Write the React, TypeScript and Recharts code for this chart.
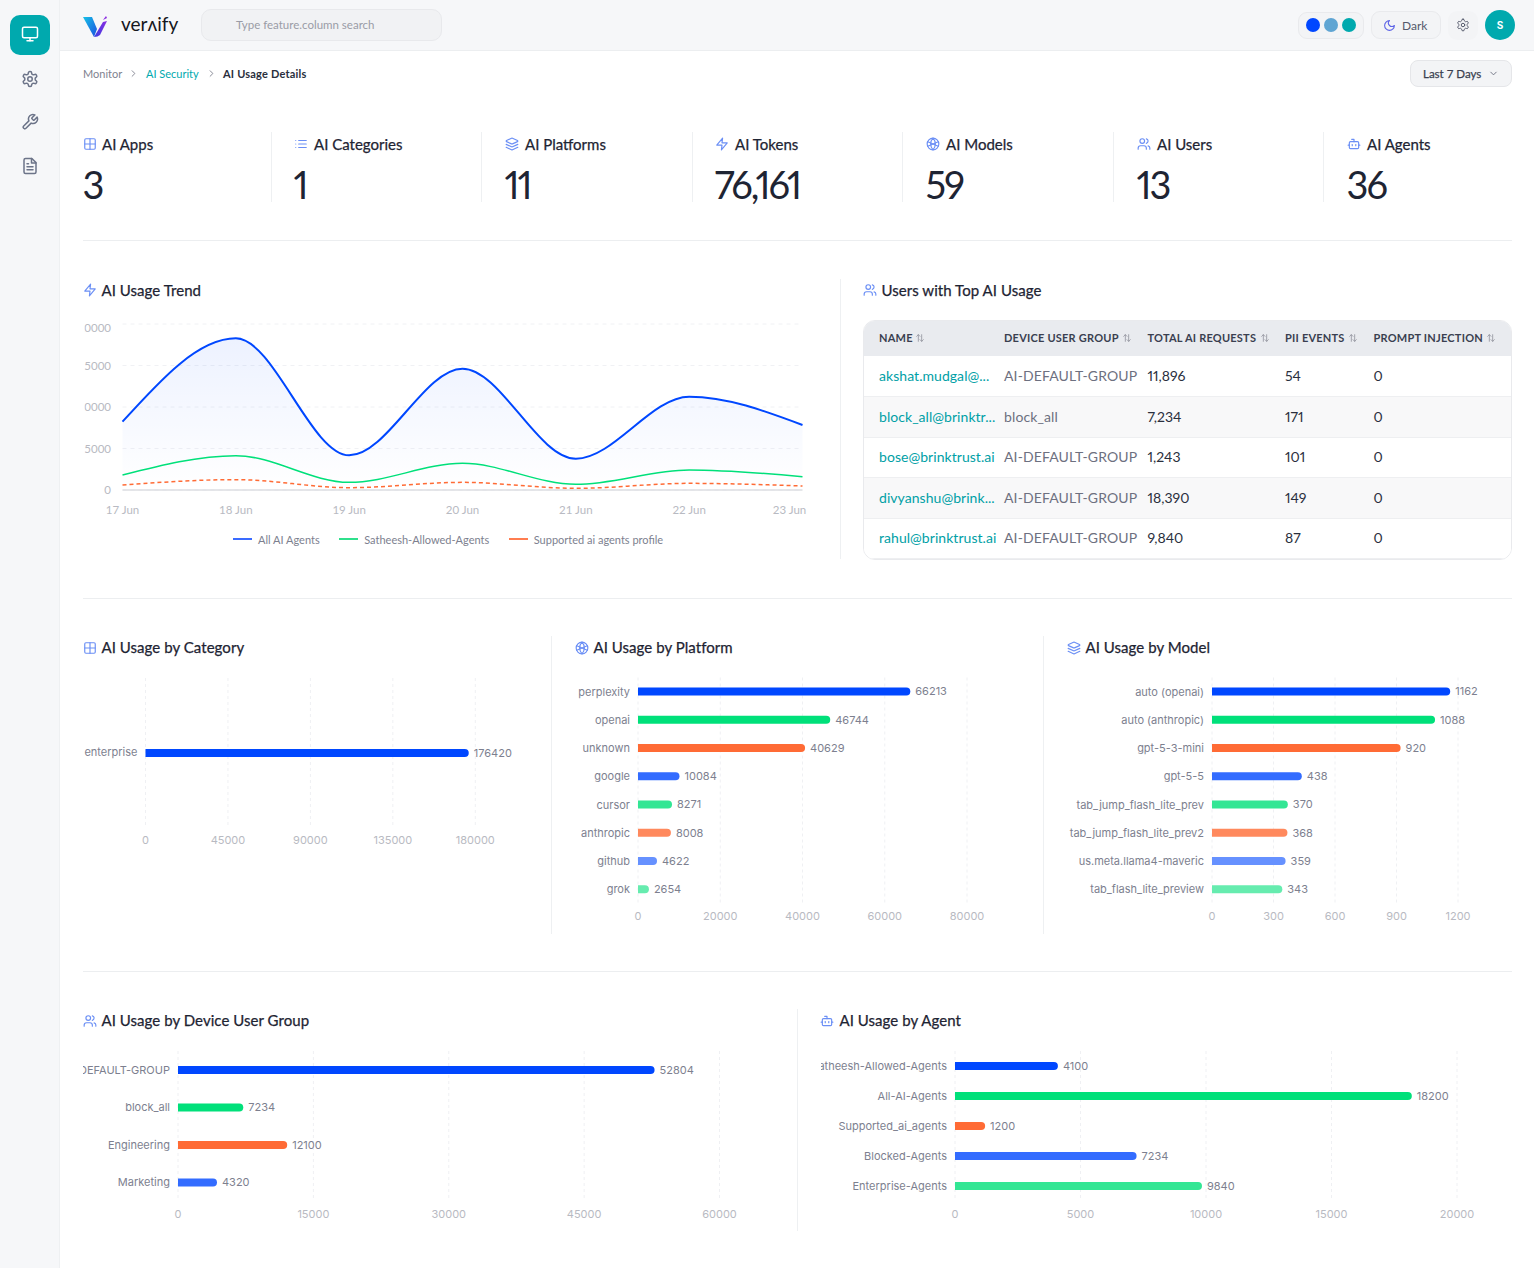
import React from "react";
import {
  BarChart, Bar, Cell, LabelList, XAxis, YAxis, CartesianGrid,
  ComposedChart, Area, Line, Legend,
} from "recharts";

const days = ["17 Jun", "18 Jun", "19 Jun", "20 Jun", "21 Jun", "22 Jun", "23 Jun"];
const allAgents = [8230, 18270, 4180, 14620, 3770, 11240, 7830];
const allowedAgents = [1810, 4140, 920, 3210, 680, 2410, 1610];
const supportedAgents = [600, 1250, 280, 920, 200, 800, 480];
const trendTicks = [0, 5000, 10000, 15000, 20000];
const seriesNames = ["All AI Agents", "Satheesh-Allowed-Agents", "Supported ai agents profile"];

const categoryNames = ["enterprise"];
const categoryValues = [176420];
const categoryTicks = [0, 45000, 90000, 135000, 180000];

const platformNames = ["perplexity", "openai", "unknown", "google", "cursor", "anthropic", "github", "grok"];
const platformValues = [66213, 46744, 40629, 10084, 8271, 8008, 4622, 2654];
const platformTicks = [0, 20000, 40000, 60000, 80000];

const modelNames = ["auto (openai)", "auto (anthropic)", "gpt-5-3-mini", "gpt-5-5", "tab_jump_flash_lite_prev", "tab_jump_flash_lite_prev2", "us.meta.llama4-maveric", "tab_flash_lite_preview"];
const modelValues = [1162, 1088, 920, 438, 370, 368, 359, 343];
const modelTicks = [0, 300, 600, 900, 1200];

const groupNames = ["AI-DEFAULT-GROUP", "block_all", "Engineering", "Marketing"];
const groupValues = [52804, 7234, 12100, 4320];
const groupTicks = [0, 15000, 30000, 45000, 60000];

const agentNames = ["Satheesh-Allowed-Agents", "All-AI-Agents", "Supported_ai_agents", "Blocked-Agents", "Enterprise-Agents"];
const agentValues = [4100, 18200, 1200, 7234, 9840];
const agentTicks = [0, 5000, 10000, 15000, 20000];

const kpiTitles = ["AI Apps", "AI Categories", "AI Platforms", "AI Tokens", "AI Models", "AI Users", "AI Agents"];
const kpiValues = ["3", "1", "11", "76,161", "59", "13", "36"];

const tableHead = ["NAME", "DEVICE USER GROUP", "TOTAL AI REQUESTS", "PII EVENTS", "PROMPT INJECTION"];
const tableNames = ["akshat.mudgal@...", "block_all@brinktr...", "bose@brinktrust.ai", "divyanshu@brink...", "rahul@brinktrust.ai"];
const tableGroups = ["AI-DEFAULT-GROUP", "block_all", "AI-DEFAULT-GROUP", "AI-DEFAULT-GROUP", "AI-DEFAULT-GROUP"];
const tableRequests = ["11,896", "7,234", "1,243", "18,390", "9,840"];
const tablePii = ["54", "171", "101", "149", "87"];
const tablePrompt = ["0", "0", "0", "0", "0"];

const palette = ["#0047ff", "#00e07a", "#ff6b35", "#336cff", "#33e694", "#ff895d", "#6691ff", "#66ecaf"];
const head = "Lato, sans-serif";
const body = "Inter, sans-serif";
const pnum = { fontFeatureSettings: '"pnum" 1, "lnum" 1' };
const medium = { WebkitTextStroke: "0.25px currentColor" };

const P = (d: string) => <path d={d} />;
const icons: Record<string, React.ReactNode> = {
  grid: <><rect x="3" y="3" width="18" height="18" rx="2" />{P("M3 12h18")}{P("M12 3v18")}</>,
  list: <>{P("M8 6h13")}{P("M8 12h13")}{P("M8 18h13")}{P("M3 6h.01")}{P("M3 12h.01")}{P("M3 18h.01")}</>,
  layers: <>{P("m12.83 2.18a2 2 0 0 0-1.66 0L2.6 6.08a1 1 0 0 0 0 1.83l8.58 3.91a2 2 0 0 0 1.66 0l8.58-3.9a1 1 0 0 0 0-1.83Z")}{P("m22 17.65-9.17 4.16a2 2 0 0 1-1.66 0L2 17.65")}{P("m22 12.65-9.17 4.16a2 2 0 0 1-1.66 0L2 12.65")}</>,
  zap: P("M13 2 3 14h9l-1 8 10-12h-9l1-8z"),
  globe: <><circle cx="12" cy="12" r="10" />{P("M12 2a14.5 14.5 0 0 0 0 20 14.5 14.5 0 0 0 0-20")}{P("M3 8l18 8")}{P("M21 8L3 16")}</>,
  users: <>{P("M16 21v-2a4 4 0 0 0-4-4H6a4 4 0 0 0-4 4v2")}<circle cx="9" cy="7" r="4" />{P("M22 21v-2a4 4 0 0 0-3-3.87")}{P("M16 3.13a4 4 0 0 1 0 7.75")}</>,
  bot: <>{P("M12 8V4H8")}<rect x="4" y="8" width="16" height="12" rx="2" />{P("M2 14h2")}{P("M20 14h2")}{P("M15 13v2")}{P("M9 13v2")}</>,
  monitor: <><rect x="2" y="3" width="20" height="14" rx="2" />{P("M8 21h8")}{P("M12 17v4")}</>,
  gear: <>{P("M12.22 2h-.44a2 2 0 0 0-2 2v.18a2 2 0 0 1-1 1.73l-.43.25a2 2 0 0 1-2 0l-.15-.08a2 2 0 0 0-2.73.73l-.22.38a2 2 0 0 0 .73 2.73l.15.1a2 2 0 0 1 1 1.72v.51a2 2 0 0 1-1 1.74l-.15.09a2 2 0 0 0-.73 2.73l.22.38a2 2 0 0 0 2.73.73l.15-.08a2 2 0 0 1 2 0l.43.25a2 2 0 0 1 1 1.73V20a2 2 0 0 0 2 2h.44a2 2 0 0 0 2-2v-.18a2 2 0 0 1 1-1.73l.43-.25a2 2 0 0 1 2 0l.15.08a2 2 0 0 0 2.73-.73l.22-.39a2 2 0 0 0-.73-2.73l-.15-.08a2 2 0 0 1-1-1.74v-.5a2 2 0 0 1 1-1.74l.15-.09a2 2 0 0 0 .73-2.73l-.22-.38a2 2 0 0 0-2.73-.73l-.15.08a2 2 0 0 1-2 0l-.43-.25a2 2 0 0 1-1-1.73V4a2 2 0 0 0-2-2z")}<circle cx="12" cy="12" r="3" /></>,
  wrench: P("M14.7 6.3a1 1 0 0 0 0 1.4l1.6 1.6a1 1 0 0 0 1.4 0l3.77-3.77a6 6 0 0 1-7.94 7.94l-6.91 6.91a2.12 2.12 0 0 1-3-3l6.91-6.91a6 6 0 0 1 7.94-7.94l-3.76 3.76z"),
  file: <>{P("M14.5 2H6a2 2 0 0 0-2 2v16a2 2 0 0 0 2 2h12a2 2 0 0 0 2-2V7.5L14.5 2z")}{P("M14 2v6h6")}{P("M16 13H8")}{P("M16 17H8")}{P("M10 9H8")}</>,
  moon: P("M12 3a6 6 0 0 0 9 9 9 9 0 1 1-9-9Z"),
  chevR: P("m9 18 6-6-6-6"),
  chevD: P("m6 9 6 6 6-6"),
  sort: <>{P("M8 20V4")}{P("M4 8l4-4 4 4")}{P("M16 4v16")}{P("M12 16l4 4 4-4")}</>,
};

function Icon({ name, x, y, size = 14, color = "#6b8ff5", width = 2 }: any) {
  return (
    <svg style={{ position: "absolute", left: x, top: y }} width={size} height={size} viewBox="0 0 24 24"
      fill="none" stroke={color} strokeWidth={width} strokeLinecap="round" strokeLinejoin="round">
      {icons[name]}
    </svg>
  );
}

function T({ x, y, size = 11, color = "#1e2433", weight = 400, font = head, children, spacing, extra }: any) {
  return (
    <div style={{ position: "absolute", left: x, top: y - 10, height: 20, lineHeight: "20px", fontFamily: font, fontSize: size, color, fontWeight: weight, whiteSpace: "nowrap", letterSpacing: spacing, ...extra }}>
      {children}
    </div>
  );
}

function Box({ x, y, w, h, bg, border, radius }: any) {
  return <div style={{ position: "absolute", left: x, top: y, width: w, height: h, background: bg, border, borderRadius: radius, boxSizing: "border-box" }} />;
}

function Title({ icon, x, textX, y, textY, children }: any) {
  return (
    <>
      <Icon name={icon} x={x} y={y - 7} size={14} />
      <T x={textX - 0.5} y={textY ?? y - 1} size={15} spacing={0.05} color="#1e2433" extra={medium}>{children}</T>
    </>
  );
}

function HBar({ L, T: top, W, H, x0, x1, plotTop, plotBottom, names, values, ticks }: any) {
  const data = names.map((name: string, i: number) => ({ name, value: values[i] }));
  return (
    <div style={{ position: "absolute", left: L, top, width: W, height: H, overflow: "hidden" }}>
      <BarChart width={W} height={H} data={data} layout="vertical"
        margin={{ top: plotTop - top, right: W - (x1 - L), bottom: 0, left: 0 }}>
        <CartesianGrid horizontal={false} stroke="#eff0f3" strokeDasharray="3 3" />
        <XAxis type="number" domain={[0, ticks[ticks.length - 1]]} ticks={ticks} interval={0}
          height={H - (plotBottom - top)} axisLine={false} tickLine={false} tickSize={0} tickMargin={9}
          tick={{ fontSize: 11, fill: "#b8bac2", fontFamily: body }} />
        <YAxis type="category" dataKey="name" width={x0 - L} interval={0}
          axisLine={false} tickLine={false} tickSize={0} tickMargin={8}
          tick={{ fontSize: 11, fill: "#7d7f8f", fontFamily: body }} />
        <Bar dataKey="value" barSize={8} radius={[0, 4, 4, 0]} isAnimationActive={false}>
          {data.map((_: any, i: number) => <Cell key={i} fill={palette[i % palette.length]} />)}
          <LabelList dataKey="value" position="right" offset={5} style={{ fontSize: 11, fill: "#7d7f8f", fontFamily: body }} />
        </Bar>
      </BarChart>
    </div>
  );
}

const trendData = days.map((day, i) => ({ day, all: allAgents[i], allowed: allowedAgents[i], supported: supportedAgents[i] }));

const XTick = (p: any) => (
  <text x={p.payload.index === days.length - 1 ? p.x - 13 : p.x} y={p.y + 14} dy="0.71em" textAnchor="middle" fontSize={11.5} fill="#b8bac2" fontFamily={head}>{p.payload.value}</text>
);
const YTick = (p: any) => (
  <text x={p.x} y={p.payload.index === trendTicks.length - 1 ? p.y + 4 : p.y} dy="0.35em" textAnchor="end" fontSize={11.5} fill="#b8bac2" fontFamily={head}>{p.payload.value}</text>
);

const TrendLegend = () => (
  <div style={{ display: "flex", marginLeft: 150, marginTop: -1, height: 20, alignItems: "center", fontFamily: head, fontSize: 11, color: "#7d7f8f" }}>
    {seriesNames.map((n, i) => (
      <div key={n} style={{ display: "flex", alignItems: "center", marginRight: 19.5 }}>
        <span style={{ display: "inline-block", width: 19, height: 1.5, background: ["#3a6bff", "#2fe08c", "#ff7d50"][i], marginRight: 6 }} />
        <span>{n}</span>
      </div>
    ))}
  </div>
);

function Trend() {
  return (
    <div style={{ position: "absolute", left: 83, top: 316, width: 724, height: 234, overflow: "hidden", clipPath: "inset(0 0 0 1.5px)" }}>
      <ComposedChart width={724} height={234} data={trendData} margin={{ top: 8, right: 4.5, bottom: 0, left: 0 }}>
        <defs>
          <linearGradient id="trendFill" x1="0" y1="0" x2="0" y2="1">
            <stop offset="0%" stopColor="#0047ff" stopOpacity={0.12} />
            <stop offset="100%" stopColor="#0047ff" stopOpacity={0} />
          </linearGradient>
        </defs>
        <CartesianGrid vertical={false} stroke="#f0f1f4" strokeDasharray="4 4" />
        <XAxis dataKey="day" scale="point" padding={{ left: 0, right: 0 }} interval={0} height={40}
          axisLine={{ stroke: "#dcdee2", strokeWidth: 1.5 }} tickLine={false} tickSize={0} tick={<XTick />} />
        <YAxis domain={[0, 20000]} ticks={trendTicks} interval={0} width={39.5} axisLine={false} tickLine={false}
          tickSize={0} tickMargin={11.5} tick={<YTick />} />
        <Area type="monotone" dataKey="all" name={seriesNames[0]} stroke="#0047ff" strokeWidth={2} fill="url(#trendFill)" dot={false} activeDot={false} isAnimationActive={false} />
        <Line type="monotone" dataKey="allowed" name={seriesNames[1]} stroke="#00e07a" strokeWidth={1.5} dot={false} activeDot={false} isAnimationActive={false} />
        <Line type="monotone" dataKey="supported" name={seriesNames[2]} stroke="#ff6b35" strokeWidth={1.5} strokeDasharray="4 3" dot={false} activeDot={false} isAnimationActive={false} />
        <Legend verticalAlign="bottom" content={<TrendLegend />} height={20} />
      </ComposedChart>
    </div>
  );
}

const kpiX = [83, 294, 505, 715, 926, 1137, 1347];
const kpiTextX = [102, 314, 525, 735, 946, 1157, 1367];
const kpiIcons = ["grid", "list", "layers", "zap", "globe", "users", "bot"];
const dividerX = [271, 481, 692, 902, 1113, 1323];
const colX = [879, 1004, 1147.5, 1285, 1373.5];
const headIconX = [915, 1122, 1260, 1348, 1486];
const rowTop = [356, 397, 438, 478, 519];
const rowH = [41, 41, 40, 41, 40];

export default function App() {
  return (
    <div style={{ position: "absolute", left: 0, top: 0, width: 1534, height: 1268, background: "#fff", overflow: "hidden" }}>
      {/* sidebar */}
      <Box x={0} y={0} w={59} h={1268} bg="#f6f7f9" />
      <Box x={59} y={0} w={1} h={1268} bg="#eef0f2" />
      <Box x={10} y={15} w={40} h={40} bg="#00a9ae" radius={10} />
      <Icon name="monitor" x={21} y={25} size={18} color="#fff" width={2} />
      <Icon name="gear" x={21} y={70} size={18} color="#6c7489" />
      <Icon name="wrench" x={21} y={113} size={18} color="#6c7489" />
      <Icon name="file" x={21} y={157} size={18} color="#6c7489" />
      {/* top bar */}
      <Box x={60} y={0} w={1474} h={51} bg="#f6f7f9" />
      <Box x={60} y={50} w={1474} h={1} bg="#eceef0" />
      <svg style={{ position: "absolute", left: 82, top: 14 }} width={28} height={24} viewBox="0 0 28 24">
        <defs>
          <linearGradient id="logoA" x1="0" y1="0" x2="1" y2="1"><stop offset="0" stopColor="#16c2e6" /><stop offset="1" stopColor="#1a4fe0" /></linearGradient>
          <linearGradient id="logoB" x1="0" y1="1" x2="1" y2="0"><stop offset="0" stopColor="#3b3fe0" /><stop offset="1" stopColor="#8a2be2" /></linearGradient>
        </defs>
        <path d="M1 3h9l5 12-3 8z" fill="url(#logoA)" />
        <path d="M12 23l9-15 4-1-7 14q-2 2-6 2z" fill="url(#logoB)" />
        <path d="M21 6l3-4 1 2z" fill="#8a2be2" />
      </svg>
      <T x={121} y={24} size={19} color="#15171e" font="Lato, sans-serif">verʌify</T>
      <Box x={201} y={9} w={241} h={32} bg="#f1f2f4" border="1px solid #e8e9ec" radius={10} />
      <T x={236} y={25} size={11.5} color="#9a9ca6">Type feature.column search</T>
      <Box x={1298} y={12} w={66} h={27} bg="#f3f4f6" border="1px solid #e9eaed" radius={9} />
      <div style={{ position: "absolute", left: 1306, top: 18, width: 14, height: 14, borderRadius: 7, background: "#0047ff" }} />
      <div style={{ position: "absolute", left: 1324, top: 18, width: 14, height: 14, borderRadius: 7, background: "#5fa5d3" }} />
      <div style={{ position: "absolute", left: 1342, top: 18, width: 14, height: 14, borderRadius: 7, background: "#00a9ae" }} />
      <Box x={1371} y={11} w={70} h={28} bg="#f3f4f6" border="1px solid #e9eaed" radius={9} />
      <Icon name="moon" x={1383} y={19} size={13} color="#5c63e6" />
      <T x={1402} y={26} size={12} color="#555a6b">Dark</T>
      <Box x={1448} y={11} w={30} h={29} bg="#f3f4f6" radius={9} />
      <Icon name="gear" x={1456} y={18} size={14} color="#555a6b" width={1.7} />
      <div style={{ position: "absolute", left: 1485, top: 10, width: 30, height: 30, borderRadius: 15, background: "#00a9ae", color: "#fff", textAlign: "center", lineHeight: "30px", fontSize: 10, fontWeight: 700, fontFamily: body }}>S</div>
      {/* breadcrumb */}
      <T x={83} y={74} size={11} color="#80828f">Monitor</T>
      <Icon name="chevR" x={128} y={68} size={11} color="#80828f" />
      <T x={146} y={74} size={11} color="#00a9ae">AI Security</T>
      <Icon name="chevR" x={206} y={68} size={11} color="#80828f" />
      <T x={223} y={74} size={11} color="#2a2f3d" weight={700} spacing={0.2}>AI Usage Details</T>
      <Box x={1410} y={60} w={102} h={27} bg="#f3f4f6" border="1px solid #e5e6e9" radius={8} />
      <T x={1423} y={74} size={11.5} color="#3a3f50" extra={medium}>Last 7 Days</T>
      <Icon name="chevD" x={1488} y={68} size={11} color="#6c7080" />
      {/* KPIs */}
      {kpiTitles.map((t, i) => (
        <React.Fragment key={t}>
          <Icon name={kpiIcons[i]} x={kpiX[i]} y={137} size={14} />
          <T x={kpiTextX[i]} y={144} size={15} extra={medium}>{t}</T>
          <T x={kpiX[i] - 0.5} y={184} size={38} weight={400} spacing={-2} extra={pnum}>{kpiValues[i]}</T>
        </React.Fragment>
      ))}
      {dividerX.map((x) => <Box key={x} x={x} y={132} w={1} h={70} bg="#eef0f2" />)}
      <Box x={83} y={240} w={1429} h={1} bg="#eceef0" />
      {/* trend */}
      <Title icon="zap" x={83} textX={102} y={290} textY={290}>AI Usage Trend</Title>
      <Trend />
      <Box x={840} y={279} w={1} h={280} bg="#eef0f2" />
      {/* table */}
      <Title icon="users" x={863} textX={882} y={290} textY={290}>Users with Top AI Usage</Title>
      <div style={{ position: "absolute", left: 863, top: 320, width: 649, height: 240, border: "1px solid #e9eaed", borderRadius: 12, boxSizing: "border-box", overflow: "hidden" }}>
        <div style={{ position: "absolute", left: 0, top: 0, width: 649, height: 35, background: "#e9ebef" }} />
        {rowTop.map((y, i) => (
          <div key={y} style={{ position: "absolute", left: 0, top: y - 321, width: 649, height: rowH[i], background: i % 2 ? "#f8f8f9" : "#fff", borderBottom: "1px solid #eeeff1", boxSizing: "border-box" }} />
        ))}
      </div>
      {tableHead.map((h, i) => (
        <React.Fragment key={h}>
          <T x={colX[i]} y={338} size={11} weight={700} color="#3a3f50" spacing={0.22}>{h}</T>
          <Icon name="sort" x={headIconX[i]} y={333} size={10} color="#8a8c96" width={1.8} />
        </React.Fragment>
      ))}
      {rowTop.map((y, i) => {
        const c = y + rowH[i] - 21;
        return (
          <React.Fragment key={y}>
            <T x={colX[0]} y={c} size={14} color="#00a0a6" spacing={0.05}>{tableNames[i]}</T>
            <T x={colX[1]} y={c} size={14} color="#6d7080" spacing={0.12}>{tableGroups[i]}</T>
            <T x={colX[2]} y={c} size={14} color="#2a2f3d" extra={pnum}>{tableRequests[i]}</T>
            <T x={colX[3]} y={c} size={14} color="#2a2f3d" extra={pnum}>{tablePii[i]}</T>
            <T x={colX[4]} y={c} size={14} color="#2a2f3d" extra={pnum}>{tablePrompt[i]}</T>
          </React.Fragment>
        );
      })}
      <Box x={83} y={598} w={1429} h={1} bg="#eceef0" />
      {/* row 2 */}
      <Title icon="grid" x={83} textX={102} y={648}>AI Usage by Category</Title>
      <HBar L={83} T={670} W={460} H={185} x0={145.5} x1={475.3} plotTop={678} plotBottom={827} names={categoryNames} values={categoryValues} ticks={categoryTicks} />
      <Box x={551} y={636} w={1} h={298} bg="#eef0f2" />
      <Title icon="globe" x={575} textX={594} y={648}>AI Usage by Platform</Title>
      <HBar L={560} T={670} W={470} H={260} x0={638} x1={967} plotTop={677.5} plotBottom={903.5} names={platformNames} values={platformValues} ticks={platformTicks} />
      <Box x={1043} y={636} w={1} h={298} bg="#eef0f2" />
      <Title icon="layers" x={1067} textX={1086} y={648}>AI Usage by Model</Title>
      <HBar L={1050} T={670} W={470} H={260} x0={1212} x1={1458} plotTop={677.5} plotBottom={903.5} names={modelNames} values={modelValues} ticks={modelTicks} />
      <Box x={83} y={971} w={1429} h={1} bg="#eceef0" />
      {/* row 3 */}
      <Title icon="users" x={83} textX={102} y={1021}>AI Usage by Device User Group</Title>
      <HBar L={83} T={1045} W={700} H={180} x0={178} x1={719.5} plotTop={1051} plotBottom={1201} names={groupNames} values={groupValues} ticks={groupTicks} />
      <Box x={797} y={1009} w={1} h={222} bg="#eef0f2" />
      <Title icon="bot" x={820} textX={840} y={1021}>AI Usage by Agent</Title>
      <HBar L={821} T={1045} W={690} H={180} x0={955} x1={1457} plotTop={1051} plotBottom={1201} names={agentNames} values={agentValues} ticks={agentTicks} />
    </div>
  );
}
